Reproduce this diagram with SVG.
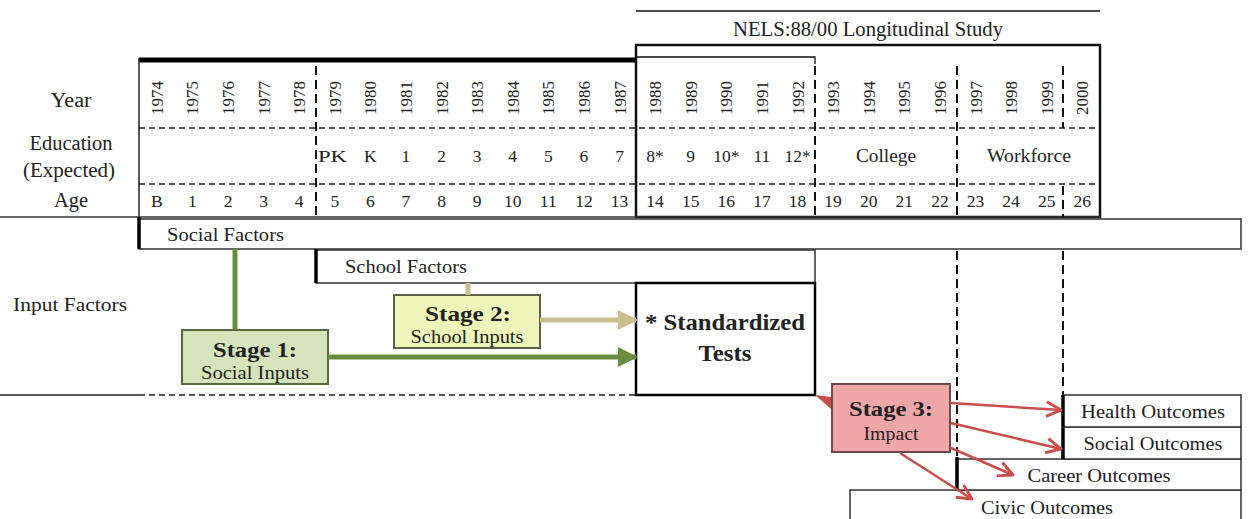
<svg xmlns="http://www.w3.org/2000/svg" width="1249" height="519" viewBox="0 0 1249 519">
<defs>
<style>
text{font-family:"Liberation Serif","DejaVu Serif",serif;fill:#222;}
.lbl{font-size:20px;}
.yr{font-size:17px;text-anchor:middle;}
.cell{font-size:17.5px;text-anchor:middle;}
.word{font-size:19px;}
.mid{text-anchor:middle;}
.start{text-anchor:start;}
.bold{font-weight:bold;font-size:22px;text-anchor:middle;}
.dash{stroke:#111;stroke-width:2;stroke-dasharray:9,5;fill:none;}
.hdash{stroke:#222;stroke-width:1.3;stroke-dasharray:6,4;fill:none;}
.box{fill:#fff;stroke:#333;stroke-width:1.5;}
.thick{stroke:#000;stroke-width:3.5;}
.red{stroke:#cc4d4d;stroke-width:2.5;fill:none;}
</style>
<marker id="ag" viewBox="0 0 10 10" refX="9" refY="5" markerWidth="4" markerHeight="4" orient="auto" markerUnits="strokeWidth"><path d="M0,0 L10,5 L0,10 z" fill="#6b8b3e"/></marker>
<marker id="at" viewBox="0 0 10 10" refX="9" refY="5" markerWidth="4" markerHeight="4" orient="auto" markerUnits="strokeWidth"><path d="M0,0 L10,5 L0,10 z" fill="#c9be8c"/></marker>
<marker id="ar" viewBox="0 0 12 12" refX="11" refY="6" markerWidth="7" markerHeight="7" orient="auto" markerUnits="strokeWidth"><path d="M1,1 L11,6 L1,11" fill="none" stroke="#cc4d4d" stroke-width="2"/></marker>
</defs>
<rect width="1249" height="519" fill="#fff"/>

<g id="table">
<line x1="636" y1="11" x2="1100" y2="11" stroke="#111" stroke-width="1.5"/>
<text x="868" y="36" class="lbl mid" textLength="270" lengthAdjust="spacingAndGlyphs">NELS:88/00 Longitudinal Study</text>
<line x1="139" y1="60" x2="636" y2="60" stroke="#000" stroke-width="5"/>
<rect x="636" y="45" width="464" height="172" fill="none" stroke="#111" stroke-width="2.5"/>
<path d="M636,57 H815 V64" fill="none" stroke="#111" stroke-width="1.3"/>
<line x1="139" y1="58" x2="139" y2="217" stroke="#222" stroke-width="1.5"/>
<line x1="0" y1="217" x2="1100" y2="217" stroke="#333" stroke-width="1.5"/>
<line x1="139" y1="128" x2="1100" y2="128" class="hdash"/>
<line x1="139" y1="184" x2="1100" y2="184" class="hdash"/>
<line x1="316" y1="66" x2="316" y2="217" class="dash"/>
<line x1="815" y1="66" x2="815" y2="217" class="dash"/>
<line x1="957" y1="66" x2="957" y2="217" class="dash"/>
<line x1="1063" y1="66" x2="1063" y2="128" class="dash"/>
<line x1="1063" y1="186" x2="1063" y2="217" class="dash"/>

<text x="71" y="107" class="lbl mid" textLength="41" lengthAdjust="spacingAndGlyphs">Year</text>
<text x="71" y="150" class="lbl mid" textLength="83" lengthAdjust="spacingAndGlyphs">Education</text>
<text x="69" y="177" class="lbl mid" textLength="92" lengthAdjust="spacingAndGlyphs">(Expected)</text>
<text x="71" y="207" class="lbl mid" textLength="34" lengthAdjust="spacingAndGlyphs">Age</text>

<g class="yr">
<text transform="translate(163,98) rotate(-90)">1974</text>
<text transform="translate(198.4,98) rotate(-90)">1975</text>
<text transform="translate(234,98) rotate(-90)">1976</text>
<text transform="translate(269.6,98) rotate(-90)">1977</text>
<text transform="translate(305.2,98) rotate(-90)">1978</text>
<text transform="translate(340.8,98) rotate(-90)">1979</text>
<text transform="translate(376.3,98) rotate(-90)">1980</text>
<text transform="translate(411.9,98) rotate(-90)">1981</text>
<text transform="translate(447.5,98) rotate(-90)">1982</text>
<text transform="translate(483.1,98) rotate(-90)">1983</text>
<text transform="translate(518.7,98) rotate(-90)">1984</text>
<text transform="translate(554.3,98) rotate(-90)">1985</text>
<text transform="translate(589.9,98) rotate(-90)">1986</text>
<text transform="translate(625.5,98) rotate(-90)">1987</text>
<text transform="translate(661.1,98) rotate(-90)">1988</text>
<text transform="translate(696.7,98) rotate(-90)">1989</text>
<text transform="translate(732.3,98) rotate(-90)">1990</text>
<text transform="translate(767.9,98) rotate(-90)">1991</text>
<text transform="translate(803.5,98) rotate(-90)">1992</text>
<text transform="translate(839.1,98) rotate(-90)">1993</text>
<text transform="translate(874.7,98) rotate(-90)">1994</text>
<text transform="translate(910.3,98) rotate(-90)">1995</text>
<text transform="translate(945.9,98) rotate(-90)">1996</text>
<text transform="translate(981.5,98) rotate(-90)">1997</text>
<text transform="translate(1017.1,98) rotate(-90)">1998</text>
<text transform="translate(1052.7,98) rotate(-90)">1999</text>
<text transform="translate(1088.2,98) rotate(-90)">2000</text>
</g>

<g class="cell">
<text x="332.5" y="162" textLength="29" lengthAdjust="spacingAndGlyphs">PK</text>
<text x="370.3" y="162">K</text>
<text x="405.9" y="162">1</text>
<text x="441.5" y="162">2</text>
<text x="477.1" y="162">3</text>
<text x="512.7" y="162">4</text>
<text x="548.3" y="162">5</text>
<text x="583.9" y="162">6</text>
<text x="619.5" y="162">7</text>
<text x="655.1" y="162">8*</text>
<text x="690.7" y="162">9</text>
<text x="726.3" y="162">10*</text>
<text x="761.9" y="162">11</text>
<text x="797.5" y="162">12*</text>
<text x="886" y="162" class="word" textLength="60" lengthAdjust="spacingAndGlyphs">College</text>
<text x="1029" y="162" class="word" textLength="84" lengthAdjust="spacingAndGlyphs">Workforce</text>
</g>

<g class="cell">
<text x="156.8" y="207">B</text>
<text x="192.4" y="207">1</text>
<text x="228" y="207">2</text>
<text x="263.6" y="207">3</text>
<text x="299.2" y="207">4</text>
<text x="334.8" y="207">5</text>
<text x="370.3" y="207">6</text>
<text x="405.9" y="207">7</text>
<text x="441.5" y="207">8</text>
<text x="477.1" y="207">9</text>
<text x="512.7" y="207">10</text>
<text x="548.3" y="207">11</text>
<text x="583.9" y="207">12</text>
<text x="619.5" y="207">13</text>
<text x="655.1" y="207">14</text>
<text x="690.7" y="207">15</text>
<text x="726.3" y="207">16</text>
<text x="761.9" y="207">17</text>
<text x="797.5" y="207">18</text>
<text x="833.1" y="207">19</text>
<text x="868.7" y="207">20</text>
<text x="904.3" y="207">21</text>
<text x="939.9" y="207">22</text>
<text x="975.5" y="207">23</text>
<text x="1011.1" y="207">24</text>
<text x="1046.7" y="207">25</text>
<text x="1082.2" y="207">26</text>
</g>
</g>

<g id="input-label">
<text x="13" y="311" class="word start" textLength="114" lengthAdjust="spacingAndGlyphs">Input Factors</text>
<line x1="0" y1="395" x2="139" y2="395" stroke="#222" stroke-width="1.5"/>
<line x1="139" y1="395" x2="636" y2="395" class="hdash"/>
</g>

<g id="timeline-dashes">
<line x1="957" y1="251" x2="957" y2="459" class="dash"/>
<line x1="1063" y1="251" x2="1063" y2="395" class="dash"/>
</g>

<g id="social-factors">
<rect x="139" y="219" width="1102" height="30" class="box"/>
<line x1="139" y1="217" x2="139" y2="249" class="thick"/>
<text x="167" y="241" class="word start" textLength="117" lengthAdjust="spacingAndGlyphs">Social Factors</text>
</g>

<g id="school-factors">
<rect x="316" y="250" width="499" height="33" class="box"/>
<line x1="316" y1="249" x2="316" y2="283" class="thick"/>
<text x="345" y="273" class="word start" textLength="122" lengthAdjust="spacingAndGlyphs">School Factors</text>
</g>

<g id="stage1">
<rect x="182" y="330" width="146" height="54" fill="#d6e4bc" stroke="#56663f" stroke-width="2"/>
<text x="255" y="357" class="bold" textLength="84" lengthAdjust="spacingAndGlyphs">Stage 1:</text>
<text x="255" y="379" class="word mid" textLength="108" lengthAdjust="spacingAndGlyphs">Social Inputs</text>
</g>

<g id="stage2">
<rect x="394" y="295" width="146" height="53" fill="#eef6ba" stroke="#5f6048" stroke-width="2"/>
<text x="468" y="321" class="bold" textLength="86" lengthAdjust="spacingAndGlyphs">Stage 2:</text>
<text x="467" y="343" class="word mid" textLength="113" lengthAdjust="spacingAndGlyphs">School Inputs</text>
</g>

<g id="tests">
<rect x="636" y="283" width="179" height="112" fill="#fff" stroke="#000" stroke-width="2.5"/>
<text x="725" y="330" class="bold" font-size="23" style="font-size:23px" textLength="160" lengthAdjust="spacingAndGlyphs">* Standardized</text>
<text x="725" y="361" class="bold" style="font-size:23px" textLength="53" lengthAdjust="spacingAndGlyphs">Tests</text>
</g>

<g id="stage3">
<rect x="832" y="384" width="118" height="68" fill="#eea6a6" stroke="#6e4a4a" stroke-width="2"/>
<text x="891" y="416" class="bold" textLength="84" lengthAdjust="spacingAndGlyphs">Stage 3:</text>
<text x="891" y="440" class="word mid" textLength="55" lengthAdjust="spacingAndGlyphs">Impact</text>
</g>

<g id="civic">
<rect x="850" y="490" width="391" height="35" class="box"/>
<text x="1047" y="514" class="word mid" textLength="132" lengthAdjust="spacingAndGlyphs">Civic Outcomes</text>
</g>
<g id="career">
<rect x="957" y="459" width="284" height="31" class="box"/>
<line x1="957" y1="457" x2="957" y2="490" class="thick"/>
<text x="1099" y="482" class="word mid" textLength="143" lengthAdjust="spacingAndGlyphs">Career Outcomes</text>
</g>
<g id="social-outcomes">
<rect x="1063" y="427" width="178" height="32" class="box"/>
<line x1="1063" y1="427" x2="1063" y2="459" class="thick"/>
<text x="1153" y="450" class="word mid" textLength="139" lengthAdjust="spacingAndGlyphs">Social Outcomes</text>
</g>
<g id="health">
<rect x="1063" y="395" width="178" height="32" class="box"/>
<line x1="1063" y1="395" x2="1063" y2="427" class="thick"/>
<text x="1153" y="418" class="word mid" textLength="144" lengthAdjust="spacingAndGlyphs">Health Outcomes</text>
</g>

<g id="connectors">
<line x1="235" y1="249" x2="235" y2="330" stroke="#6b8b3e" stroke-width="5"/>
<line x1="328" y1="357" x2="636" y2="357" stroke="#6b8b3e" stroke-width="5" marker-end="url(#ag)"/>
<line x1="468" y1="283" x2="468" y2="295" stroke="#c9be8c" stroke-width="5"/>
<line x1="540" y1="320" x2="636" y2="320" stroke="#c9be8c" stroke-width="5" marker-end="url(#at)"/>
<path d="M815,395 L831,397 L831,409 z" fill="#cc4d4d"/>
<line x1="951" y1="403" x2="1061" y2="410" class="red" marker-end="url(#ar)"/>
<line x1="951" y1="423" x2="1061" y2="449" class="red" marker-end="url(#ar)"/>
<line x1="951" y1="448" x2="1013" y2="475" class="red" marker-end="url(#ar)"/>
<line x1="900" y1="453" x2="972" y2="499" class="red" marker-end="url(#ar)"/>
</g>
</svg>
